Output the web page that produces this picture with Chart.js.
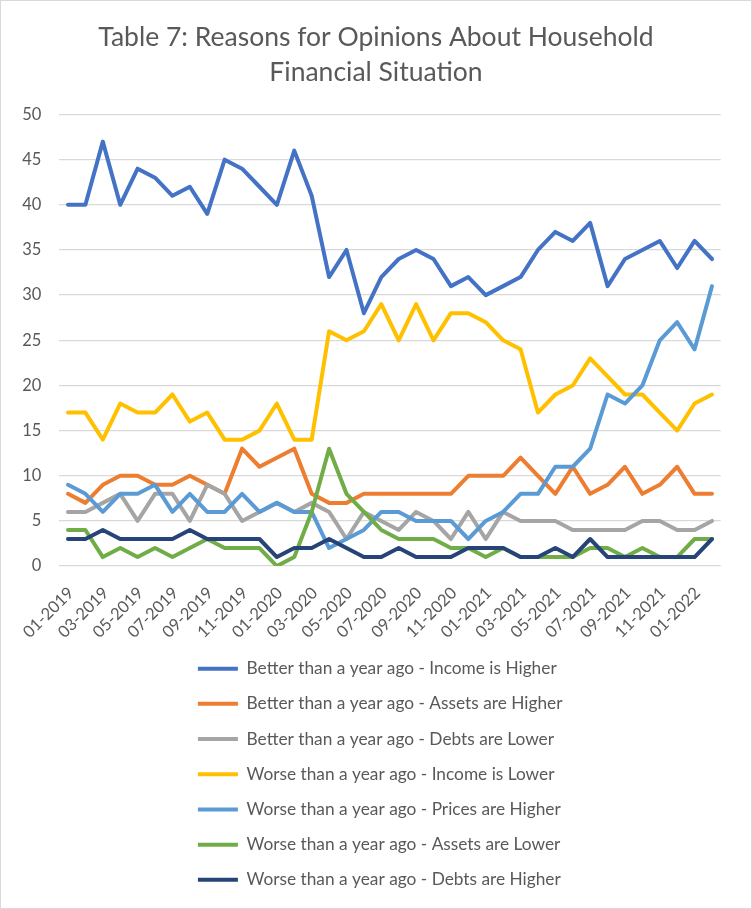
<!DOCTYPE html>
<html>
<head>
<meta charset="utf-8">
<script src="https://cdn.jsdelivr.net/npm/chart.js@4/dist/chart.umd.min.js"></script>
<style>
  html, body { margin: 0; padding: 0; background: #ffffff; }
  #wrap { width: 752px; height: 909px; box-sizing: border-box; border: 1px solid #d9d9d9; position: relative; }
  #c { display: block; }
</style>
</head>
<body>
<div id="wrap"><canvas id="c"></canvas></div>
<script>
const months = ["01-2019","02-2019","03-2019","04-2019","05-2019","06-2019","07-2019","08-2019","09-2019","10-2019","11-2019","12-2019",
                "01-2020","02-2020","03-2020","04-2020","05-2020","06-2020","07-2020","08-2020","09-2020","10-2020","11-2020","12-2020",
                "01-2021","02-2021","03-2021","04-2021","05-2021","06-2021","07-2021","08-2021","09-2021","10-2021","11-2021","12-2021",
                "01-2022","02-2022"];
const tickLabels = ["01-2019","03-2019","05-2019","07-2019","09-2019","11-2019","01-2020","03-2020","05-2020","07-2020",
                    "09-2020","11-2020","01-2021","03-2021","05-2021","07-2021","09-2021","11-2021","01-2022"];
const yTicks = [0, 5, 10, 15, 20, 25, 30, 35, 40, 45, 50];

const betterIncomeHigher = [40,40,47,40,44,43,41,42,39,45,44,42,40,46,41,32,35,28,32,34,35,34,31,32,30,31,32,35,37,36,38,31,34,35,36,33,36,34];
const betterAssetsHigher = [8,7,9,10,10,9,9,10,9,8,13,11,12,13,8,7,7,8,8,8,8,8,8,10,10,10,12,10,8,11,8,9,11,8,9,11,8,8];
const betterDebtsLower   = [6,6,7,8,5,8,8,5,9,8,5,6,7,6,7,6,3,6,5,4,6,5,3,6,3,6,5,5,5,4,4,4,4,5,5,4,4,5];
const worseIncomeLower   = [17,17,14,18,17,17,19,16,17,14,14,15,18,14,14,26,25,26,29,25,29,25,28,28,27,25,24,17,19,20,23,21,19,19,17,15,18,19];
const worsePricesHigher  = [9,8,6,8,8,9,6,8,6,6,8,6,7,6,6,2,3,4,6,6,5,5,5,3,5,6,8,8,11,11,13,19,18,20,25,27,24,31];
const worseAssetsLower   = [4,4,1,2,1,2,1,2,3,2,2,2,0,1,6,13,8,6,4,3,3,3,2,2,1,2,1,1,1,1,2,2,1,2,1,1,3,3];
const worseDebtsHigher   = [3,3,4,3,3,3,3,4,3,3,3,3,1,2,2,3,2,1,1,2,1,1,1,2,2,2,1,1,2,1,3,1,1,1,1,1,1,3];

const seriesNames = [
  "Better than a year ago - Income is Higher",
  "Better than a year ago - Assets are Higher",
  "Better than a year ago - Debts are Lower",
  "Worse than a year ago - Income is Lower",
  "Worse than a year ago - Prices are Higher",
  "Worse than a year ago - Assets are Lower",
  "Worse than a year ago - Debts are Higher"
];
const seriesValues = [betterIncomeHigher, betterAssetsHigher, betterDebtsLower, worseIncomeLower, worsePricesHigher, worseAssetsLower, worseDebtsHigher];
const seriesColors = ["#4472C4", "#ED7D31", "#A5A5A5", "#FFC000", "#5B9BD5", "#70AD47", "#264478"];

const FONT = "Lato, 'Open Sans', 'DejaVu Sans', sans-serif";
const TEXT = "#595959";

const datasets = seriesNames.map((name, i) => ({
  label: name,
  data: seriesValues[i],
  borderColor: seriesColors[i],
  backgroundColor: seriesColors[i],
  borderWidth: 4,
  borderCapStyle: 'round',
  borderJoinStyle: 'round',
  pointRadius: 0,
  pointHoverRadius: 0,
  tension: 0,
  fill: false,
  yAxisID: 'y',
  order: seriesNames.length - i
}));

const legendShift = {
  id: 'legendShift',
  afterLayout(chart) {
    const lg = chart.legend;
    if (lg) { lg.left = 179; }
  }
};

new Chart(document.getElementById('c'), {
  type: 'line',
  data: { labels: months, datasets },
  plugins: [legendShift],
  options: {
    responsive: true,
    maintainAspectRatio: false,
    animation: false,
    layout: { padding: { left: 0, right: 0, top: 0, bottom: 9.5 } },
    plugins: {
      title: {
        display: true,
        text: ["Table 7: Reasons for Opinions About Household", "Financial Situation"],
        color: TEXT,
        font: { family: FONT, size: 26.5, weight: 'normal', lineHeight: 35 / 26.5 },
        padding: { top: 18.5, bottom: 25 }
      },
      legend: {
        display: true,
        position: 'bottom',
        align: 'start',
        labels: {
          color: TEXT,
          font: { family: FONT, size: 17.3 },
          usePointStyle: true,
          pointStyle: 'line',
          pointStyleWidth: 40,
          boxHeight: 17.3,
          padding: 17.9,
          sort: (a, b) => a.datasetIndex - b.datasetIndex
        }
      },
      tooltip: { enabled: false }
    },
    scales: {
      x: {
        type: 'category',
        offset: true,
        grid: { display: false },
        border: { display: false },
        ticks: {
          autoSkip: false,
          minRotation: 45,
          maxRotation: 45,
          color: TEXT,
          font: { family: FONT, size: 16.5 },
          padding: 9,
          labelOffset: 3,
          callback: function(value, index) {
            const lab = months[index];
            return tickLabels.includes(lab) ? lab : null;
          }
        },
        afterFit: (s) => { s.height = 76; }
      },
      y: {
        min: 0,
        max: 50,
        grid: { color: '#D9D9D9', lineWidth: 1.3, drawTicks: false },
        border: { display: false },
        ticks: {
          color: TEXT,
          font: { family: FONT, size: 16.5 },
          padding: 18,
          stepSize: 5,
          callback: (v) => yTicks.includes(v) ? String(v) : null
        },
        afterFit: (s) => { s.width = 58.3; }
      },
      yRightSpace: {
        position: 'right',
        display: true,
        grid: { display: false, drawTicks: false },
        border: { display: false },
        ticks: { display: false },
        afterFit: (s) => { s.width = 30.3; }
      }
    }
  }
});
</script>
</body>
</html>
